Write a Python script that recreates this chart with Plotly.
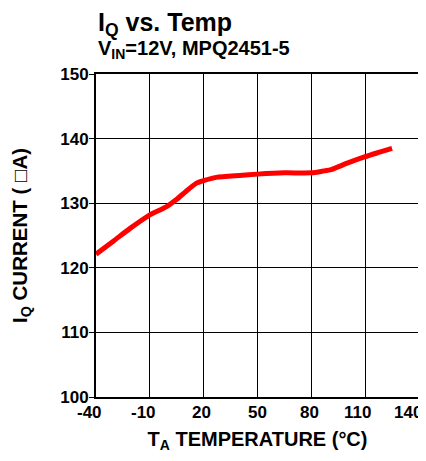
import plotly.graph_objects as go

temp_c = [-40, -30, -21, -10, -4, 0, 5, 10, 16, 20, 27, 40, 50, 65, 80, 87, 91, 100, 110, 118, 125]
iq_ua = [122.1, 124.2, 126.1, 128.2, 129.0, 129.6, 130.6, 131.8, 133.1, 133.5, 134.0, 134.3, 134.5, 134.7, 134.7, 135.0, 135.2, 136.2, 137.2, 137.9, 138.5]

x_ticks = [-40, -10, 20, 50, 80, 110, 140]
y_ticks = [100, 110, 120, 130, 140, 150]

# style: horizontal pixel nudges of the x tick labels, as in the reference
x_label_shift = [-7, -6, -2, 0, -2, -8, -11]

FONT = "Liberation Sans, Arial, sans-serif"
OFF = 8  # page body margin
L, R, T, B = 88, 7, 66, 56
W, H = 426 - OFF, 461 - 2 * OFF

fig = go.Figure()
fig.add_trace(go.Scatter(x=temp_c, y=iq_ua, mode="lines",
                         line=dict(color="#ff0000", width=5, shape="spline", smoothing=0.6),
                         showlegend=False, hoverinfo="skip"))

fig.update_layout(
    width=W, height=H,
    margin=dict(l=L, r=R, t=T, b=B, autoexpand=False),
    paper_bgcolor="white", plot_bgcolor="white",
    font=dict(family=FONT, color="black"),
    xaxis=dict(range=[-40, 140], tickvals=x_ticks, showticklabels=False,
               showgrid=True, gridcolor="black", gridwidth=1,
               showline=True, linecolor="black", linewidth=2, mirror=True,
               ticks="", zeroline=False, automargin=False,
               title=dict(text="<b>T<sub>A</sub> TEMPERATURE (°C)</b>", font=dict(size=20, family=FONT), standoff=37)),
    yaxis=dict(range=[100, 150], tickvals=y_ticks, ticktext=[f"<b>{v}</b>" for v in y_ticks],
               showgrid=True, gridcolor="black", gridwidth=1,
               showline=True, linecolor="black", linewidth=2, mirror=True,
               ticks="outside", ticklen=5, tickcolor="black", tickwidth=1,
               tickfont=dict(size=17, family=FONT), zeroline=False,
               automargin=False, ticklabeloverflow="allow", ticklabelstandoff=-3,
               title=dict(text="<b>I<sub>Q</sub> CURRENT ( \u25a1A)</b>", font=dict(size=20.5, family=FONT), standoff=28)),
)

for v, s in zip(x_ticks, x_label_shift):
    fig.add_annotation(text=f"<b>{v}</b>", x=v, y=0, xref="x", yref="paper",
                       xanchor="center", yanchor="top", xshift=s, yshift=-4,
                       showarrow=False, font=dict(size=17, family=FONT))

pw, ph = W - L - R, H - T - B
def px(x_win):
    return (x_win - OFF - L) / pw
def py(y_win):
    return (H - (y_win - OFF) - B) / ph

fig.add_annotation(text="<b>I<sub>Q</sub> vs. Temp</b>", x=px(96), y=py(6), xref="paper", yref="paper",
                   showarrow=False, xanchor="left", yanchor="top", font=dict(size=25, family=FONT))
fig.add_annotation(text="<b>V<sub>IN</sub>=12V, MPQ2451-5</b>", x=px(96), y=py(35), xref="paper", yref="paper",
                   showarrow=False, xanchor="left", yanchor="top", font=dict(size=20, family=FONT))

fig.write_html("out.html")
